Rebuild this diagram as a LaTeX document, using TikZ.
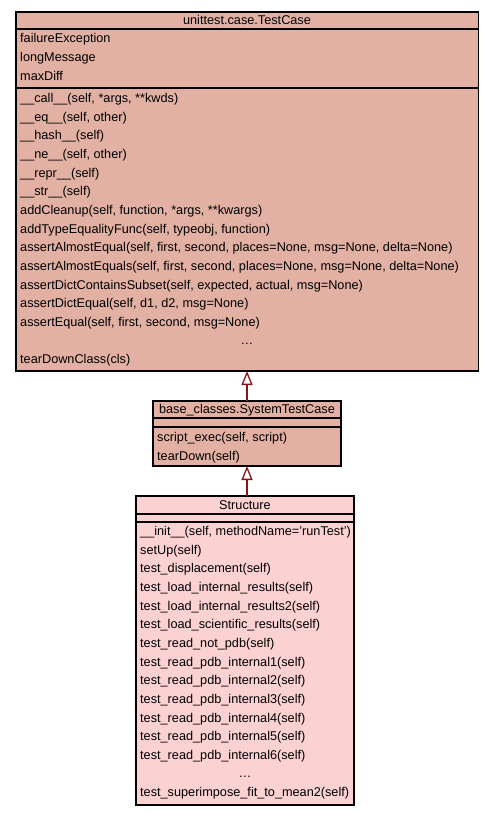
\documentclass[tikz,border=0pt]{standalone}
\usepackage{fontspec}
\setmainfont{Liberation Sans}
\usetikzlibrary{arrows.meta}
\definecolor{topfill}{RGB}{226,177,164}
\definecolor{botfill}{RGB}{252,209,210}
\definecolor{edgered}{RGB}{139,20,20}
\newcommand\umlfont{\fontsize{12.7}{15}\selectfont}
\newcommand\umlwidefont{\fontsize{13.0}{15}\selectfont}
\tikzset{
  cls/.style={draw=black, line width=1.1pt, anchor=north west, inner sep=0pt, outer sep=0pt},
  lbl/.style={anchor=base west, inner sep=0pt, font=\umlfont},
  ttl/.style={anchor=base, inner sep=0pt, font=\umlfont},
  wide/.style={font=\umlwidefont},
  sep/.style={draw=black, line width=1.1pt},
  inherit/.style={draw=edgered, line width=2pt, -{Triangle[open, length=14pt, width=11pt, line width=1.3pt]}}
}
\begin{document}
\begin{tikzpicture}[x=1pt, y=-1pt]
\useasboundingbox (0,0) rectangle (493,816);
% ---- unittest.case.TestCase
\node[cls, fill=topfill, minimum width=462.5pt, minimum height=359pt] (tc) at (16,12) {};
\draw[sep] (16,29) -- (478.5,29);
\draw[sep] (16,88) -- (478.5,88);
\begin{scope}[every node/.append style={wide}]
\node[ttl] (tct) at (247,24.8) {unittest.case.TestCase};
\node[lbl] (a1) at (20,42.6) {failureException};
\node[lbl] (a2) at (20,61.3) {longMessage};
\node[lbl] (a3) at (20,80) {maxDiff};
\node[lbl] (m1) at (20,102.5) {\_\_call\_\_(self, *args, **kwds)};
\node[lbl] (m2) at (20,121.15) {\_\_eq\_\_(self, other)};
\node[lbl] (m3) at (20,139.8) {\_\_hash\_\_(self)};
\node[lbl] (m4) at (20,158.45) {\_\_ne\_\_(self, other)};
\node[lbl] (m5) at (20,177.1) {\_\_repr\_\_(self)};
\node[lbl] (m6) at (20,195.75) {\_\_str\_\_(self)};
\node[lbl] (m7) at (20,214.4) {addCleanup(self, function, *args, **kwargs)};
\node[lbl] (m8) at (20,233.05) {addTypeEqualityFunc(self, typeobj, function)};
\node[lbl] (m9) at (20,251.7) {assertAlmostEqual(self, first, second, places=None, msg=None, delta=None)};
\node[lbl] (m10) at (20,270.35) {assertAlmostEquals(self, first, second, places=None, msg=None, delta=None)};
\node[lbl] (m11) at (20,289) {assertDictContainsSubset(self, expected, actual, msg=None)};
\node[lbl] (m12) at (20,307.65) {assertDictEqual(self, d1, d2, msg=None)};
\node[lbl] (m13) at (20,326.3) {assertEqual(self, first, second, msg=None)};
\node[ttl] (m14) at (247,344.95) {…};
\node[lbl] (m15) at (20,363.6) {tearDownClass(cls)};
\end{scope}
% ---- base_classes.SystemTestCase
\node[cls, fill=topfill, minimum width=188pt, minimum height=65pt] (stc) at (153,401) {};
\draw[sep] (153,418) -- (341,418);
\draw[sep] (153,427) -- (341,427);
\node[ttl] (stct) at (247,413.8) {base\_classes.SystemTestCase};
\node[lbl] (s1) at (157,441.5) {script\_exec(self, script)};
\node[lbl] (s2) at (157,460.15) {tearDown(self)};
% ---- Structure
\node[cls, fill=botfill, minimum width=218pt, minimum height=309pt] (st) at (136,496) {};
\draw[sep] (136,514) -- (354,514);
\draw[sep] (136,522) -- (354,522);
\node[ttl] (stt) at (245,509.3) {Structure};
\node[lbl] (b1) at (140,535.5) {\_\_init\_\_(self, methodName='runTest')};
\node[lbl] (b2) at (140,554.15) {setUp(self)};
\node[lbl] (b3) at (140,572.8) {test\_displacement(self)};
\node[lbl] (b4) at (140,591.45) {test\_load\_internal\_results(self)};
\node[lbl] (b5) at (140,610.1) {test\_load\_internal\_results2(self)};
\node[lbl] (b6) at (140,628.75) {test\_load\_scientific\_results(self)};
\node[lbl] (b7) at (140,647.4) {test\_read\_not\_pdb(self)};
\node[lbl] (b8) at (140,666.05) {test\_read\_pdb\_internal1(self)};
\node[lbl] (b9) at (140,684.7) {test\_read\_pdb\_internal2(self)};
\node[lbl] (b10) at (140,703.35) {test\_read\_pdb\_internal3(self)};
\node[lbl] (b11) at (140,722) {test\_read\_pdb\_internal4(self)};
\node[lbl] (b12) at (140,740.65) {test\_read\_pdb\_internal5(self)};
\node[lbl] (b13) at (140,759.3) {test\_read\_pdb\_internal6(self)};
\node[ttl] (b14) at (245,777.95) {…};
\node[lbl] (b15) at (140,796.6) {test\_superimpose\_fit\_to\_mean2(self)};
% ---- inheritance
\draw[inherit] (stc.north -| 247,0) -- (tc.south -| 247,0);
\draw[inherit] (st.north -| 247,0) -- (stc.south -| 247,0);
\end{tikzpicture}
\end{document}
